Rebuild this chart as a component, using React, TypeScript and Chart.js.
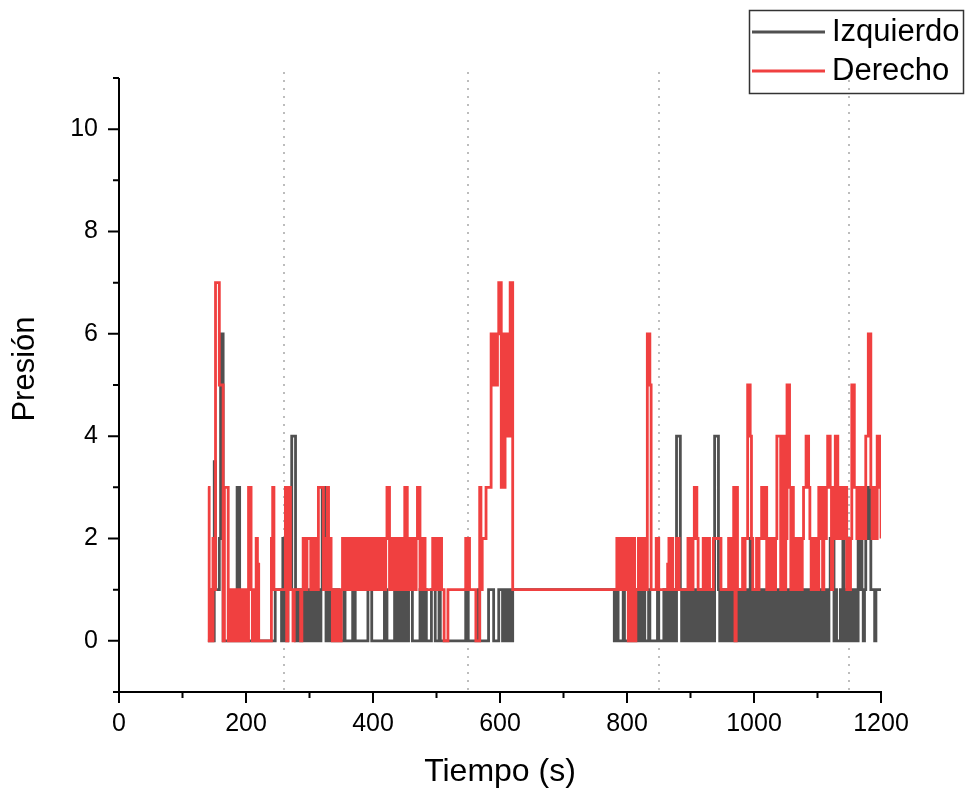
import { useEffect, useRef } from "react";
import { Chart, registerables } from "chart.js";

Chart.register(...registerables);

// Sampling of the time axis (seconds)
const T_START = 140;
const T_STEP = 2;

// Hand-read values, 10 samples (20 s) per chunk. 'b' = 1.5, 'd' = 3.5
const IZQUIERDO_CHUNKS = [
  "00010d1112", "6600000000", "0003300000", "0000000000", "0000000000",
  "0001111102", "0101114440", "0101010101", "0101101101", "3310101101",
  "1010000100", "0000110000", "0000001110", "0000000001", "1000000101",
  "100101101b", "1000000110", "1100001110", "0010000000", "0000000000",
  "0001100000", "0001000000", "0111100001", "1100110110",
  "1111111111", "1111111111", "1111111111", "1111111111",
  "1111111111", "1111111111", "1111111111", "1111111111",
  "0010000100", "0000000101", "0101000100", "0000100001", "0010100104",
  "4410101010", "1010010010", "0101011004", "4410101010", "0101001010",
  "1010101201", "0101010101", "0101101010", "1010101010", "1010110101",
  "0101010101", "0101010101", "2120100010", "2010101010", "1021210123",
  "3211101111",
];
const IZQUIERDO_LAST = 1;

const DERECHO_CHUNKS = [
  "3010217775", "5503330101", "0101101010", "103310102b", "0000000000",
  "2311111111", "1303311011", "1110122122", "2121221333", "3121312101",
  "0101012212", "2122121221", "2122121212", "2122122121", "2331212212",
  "1212133121", "2121233121", "2111111221", "2122110001", "1111111111",
  "1112121111", "1000312223", "3336656567", "7363646477",
  "1111111111", "1111111111", "1111111111", "1111111111",
  "1111111111", "1111111111", "1111111111", "1111111111",
  "1121221212", "2020020112", "2121216651", "1112211111", "11b2121112",
  "2111111121", "2123321111", "2121211122", "2222111111", "2121303111",
  "1212255421", "1121223323", "1221221244", "4134125531", "3212121123",
  "3443212121", "1323132344", "3132442323", "3231212553", "3232232244",
  "6632322443",
];
const DERECHO_LAST = 2;

const X_TICKS = [0, 200, 400, 600, 800, 1000, 1200];
const X_MINOR = [100, 300, 500, 700, 900, 1100];
const Y_TICKS = [0, 2, 4, 6, 8, 10];
const Y_MINOR = [-1, 1, 3, 5, 7, 9, 11];
const MARKERS = [260, 550, 850, 1150];

const SERIES_NAMES = ["Izquierdo", "Derecho"];
const X_TITLE = "Tiempo (s)";
const Y_TITLE = "Presión";

const GRAY = "#505050";
const RED = "#f04040";
const FONT = '"Liberation Sans", Arial, sans-serif';

function decode(chunks: string[], last: number): number[] {
  const out = chunks
    .join("")
    .split("")
    .map((c) => (c === "b" ? 1.5 : c === "d" ? 3.5 : Number(c)));
  out.push(last);
  return out;
}

function toPoints(values: number[]) {
  return values.map((v, i) => ({ x: T_START + T_STEP * i, y: v }));
}

const overlayPlugin = {
  id: "overlay",
  beforeDatasetsDraw(chart: any) {
    const { ctx, chartArea, scales } = chart;
    const x = scales.x;
    ctx.save();
    ctx.strokeStyle = "#bdbdbd";
    ctx.lineWidth = 2;
    ctx.setLineDash([2, 6]);
    for (const m of MARKERS) {
      const px = Math.round(x.getPixelForValue(m));
      ctx.beginPath();
      ctx.moveTo(px, chartArea.top - 6);
      ctx.lineTo(px, chartArea.bottom);
      ctx.stroke();
    }
    ctx.restore();
  },
  afterDraw(chart: any) {
    const { ctx, scales } = chart;
    const x = scales.x;
    const y = scales.y;
    const x0 = x.getPixelForValue(0);
    const x1 = x.getPixelForValue(1200);
    const yb = y.getPixelForValue(-1);
    const yt = y.getPixelForValue(11);
    ctx.save();
    ctx.strokeStyle = "#000";
    ctx.lineWidth = 2;
    ctx.lineCap = "butt";
    // axis lines
    ctx.beginPath();
    ctx.moveTo(x0, yt);
    ctx.lineTo(x0, yb);
    ctx.moveTo(x0, yb);
    ctx.lineTo(x1 + 1, yb);
    ctx.stroke();
    // ticks
    ctx.beginPath();
    for (const v of X_TICKS) {
      const p = x.getPixelForValue(v);
      ctx.moveTo(p, yb);
      ctx.lineTo(p, yb + 11);
    }
    for (const v of X_MINOR) {
      const p = x.getPixelForValue(v);
      ctx.moveTo(p, yb);
      ctx.lineTo(p, yb + 6);
    }
    for (const v of Y_TICKS) {
      const p = y.getPixelForValue(v);
      ctx.moveTo(x0, p);
      ctx.lineTo(x0 - 11, p);
    }
    for (const v of Y_MINOR) {
      const p = y.getPixelForValue(v);
      ctx.moveTo(x0, p);
      ctx.lineTo(x0 - 6, p);
    }
    ctx.stroke();

    // axis titles
    ctx.fillStyle = "#000";
    ctx.textAlign = "center";
    ctx.textBaseline = "middle";
    ctx.font = `32px ${FONT}`;
    ctx.fillText(X_TITLE, (x0 + x1) / 2, 772);
    ctx.save();
    ctx.font = `31px ${FONT}`;
    ctx.translate(25, 369);
    ctx.rotate(-Math.PI / 2);
    ctx.fillText(Y_TITLE, 0, 0);
    ctx.restore();

    // legend
    ctx.lineWidth = 1.5;
    ctx.strokeStyle = "#333";
    ctx.strokeRect(749.5, 10.5, 214, 83);
    const rows = [
      { name: SERIES_NAMES[0], color: GRAY, y: 32 },
      { name: SERIES_NAMES[1], color: RED, y: 71 },
    ];
    ctx.font = `31px ${FONT}`;
    ctx.textAlign = "left";
    ctx.textBaseline = "middle";
    for (const r of rows) {
      ctx.strokeStyle = r.color;
      ctx.lineWidth = 3;
      ctx.beginPath();
      ctx.moveTo(752, r.y);
      ctx.lineTo(825, r.y);
      ctx.stroke();
      ctx.fillStyle = "#000";
      ctx.fillText(r.name, 832, r.y);
    }
    ctx.restore();
  },
};

export default function App() {
  const ref = useRef<HTMLCanvasElement | null>(null);

  useEffect(() => {
    document.body.style.margin = "0";
    const canvas = ref.current;
    if (!canvas) return;
    const izq = toPoints(decode(IZQUIERDO_CHUNKS, IZQUIERDO_LAST));
    const der = toPoints(decode(DERECHO_CHUNKS, DERECHO_LAST));

    const chart = new Chart(canvas, {
      type: "line",
      data: {
        datasets: [
          {
            label: SERIES_NAMES[0],
            data: izq,
            borderColor: GRAY,
            borderWidth: 2.8,
            pointRadius: 0,
            stepped: true,
            order: 1,
          },
          {
            label: SERIES_NAMES[1],
            data: der,
            borderColor: RED,
            borderWidth: 2.8,
            pointRadius: 0,
            stepped: true,
            order: 0,
          },
        ],
      },
      options: {
        animation: false,
        responsive: false,
        devicePixelRatio: 1,
        parsing: false,
        layout: { padding: { left: 0, top: 78, right: 88, bottom: 0 } },
        plugins: {
          legend: { display: false },
          tooltip: { enabled: false },
          title: { display: false },
        },
        scales: {
          x: {
            type: "linear",
            min: 0,
            max: 1200,
            grid: { display: false, drawTicks: false },
            border: { display: false },
            afterFit: (s: any) => {
              s.height = 100;
            },
            afterBuildTicks: (s: any) => {
              s.ticks = X_TICKS.map((v) => ({ value: v }));
            },
            ticks: {
              color: "#000",
              font: { family: FONT, size: 25 },
              padding: 17,
              maxRotation: 0,
              autoSkip: false,
              callback: (v: any) => String(v),
            },
          },
          y: {
            type: "linear",
            min: -1,
            max: 11,
            grid: { display: false, drawTicks: false },
            border: { display: false },
            afterFit: (s: any) => {
              s.width = 119;
            },
            afterBuildTicks: (s: any) => {
              s.ticks = Y_TICKS.map((v) => ({ value: v }));
            },
            ticks: {
              color: "#000",
              font: { family: FONT, size: 25 },
              padding: 21,
              autoSkip: false,
              callback: (v: any) => String(v),
            },
          },
        },
      },
      plugins: [overlayPlugin],
    });
    return () => chart.destroy();
  }, []);

  return (
    <div style={{ width: 969, height: 792, background: "#fff" }}>
      <canvas ref={ref} width={969} height={792} style={{ width: 969, height: 792, display: "block" }} />
    </div>
  );
}
